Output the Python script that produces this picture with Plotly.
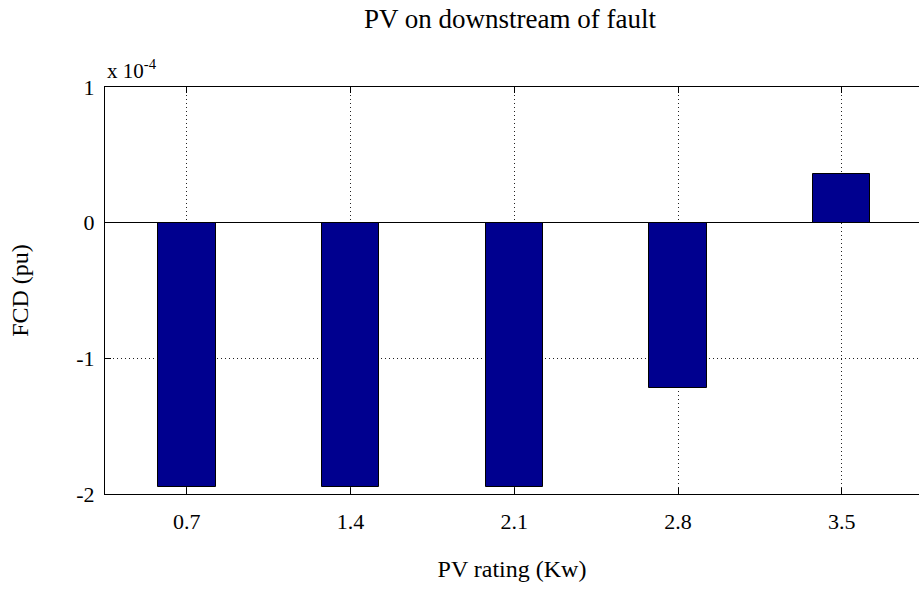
import plotly.graph_objects as go

ratings = [0.7, 1.4, 2.1, 2.8, 3.5]
fcd = [-1.95e-4, -1.95e-4, -1.95e-4, -1.22e-4, 0.36e-4]
x_ticks = [0.7, 1.4, 2.1, 2.8, 3.5]
y_tickvals = [1e-4, 0, -1e-4, -2e-4]
y_ticktext = ["1", "0", "-1", "-2"]

font_family = "Liberation Serif, Times New Roman, serif"

fig = go.Figure()
fig.add_trace(go.Bar(
    x=ratings, y=fcd, width=0.245,
    marker=dict(color="#00008F", line=dict(color="black", width=1)),
))

fig.update_layout(
    width=919, height=590,
    margin=dict(l=105, r=0, t=87, b=96),
    paper_bgcolor="white", plot_bgcolor="white",
    font=dict(family=font_family, color="black", size=22),
    title=dict(text="PV on downstream of fault", x=0.555, xanchor="center",
               y=0.968, yanchor="middle", font=dict(size=27)),
    showlegend=False,
    bargap=0,
)
fig.update_xaxes(
    range=[0.35, 3.83], tickvals=x_ticks, ticktext=[str(v) for v in x_ticks],
    ticks="inside", ticklen=6, tickcolor="black",
    showline=True, linecolor="black", linewidth=1, mirror="ticks",
    showgrid=True, gridcolor="#222", gridwidth=1, griddash="1px,3px",
    zeroline=False, ticklabelstandoff=8,
    title=dict(text="PV rating (Kw)", font=dict(size=24), standoff=26),
    tickfont=dict(size=22),
)
fig.update_yaxes(
    range=[-2e-4, 1e-4], tickvals=y_tickvals, ticktext=y_ticktext,
    ticks="inside", ticklen=6, tickcolor="black",
    showline=True, linecolor="black", linewidth=1, mirror=False,
    showgrid=True, gridcolor="#222", gridwidth=1, griddash="1px,3px",
    zeroline=True, zerolinecolor="black", zerolinewidth=1,
    ticklabelstandoff=5,
    title=dict(text="FCD (pu)", font=dict(size=24), standoff=40),
    tickfont=dict(size=22),
)
fig.add_annotation(
    text="x 10<sup>-4</sup>", xref="paper", yref="paper", x=0.0, y=1.005,
    xanchor="left", yanchor="bottom", showarrow=False,
    font=dict(size=21, family=font_family),
)

fig.write_html("out.html")
